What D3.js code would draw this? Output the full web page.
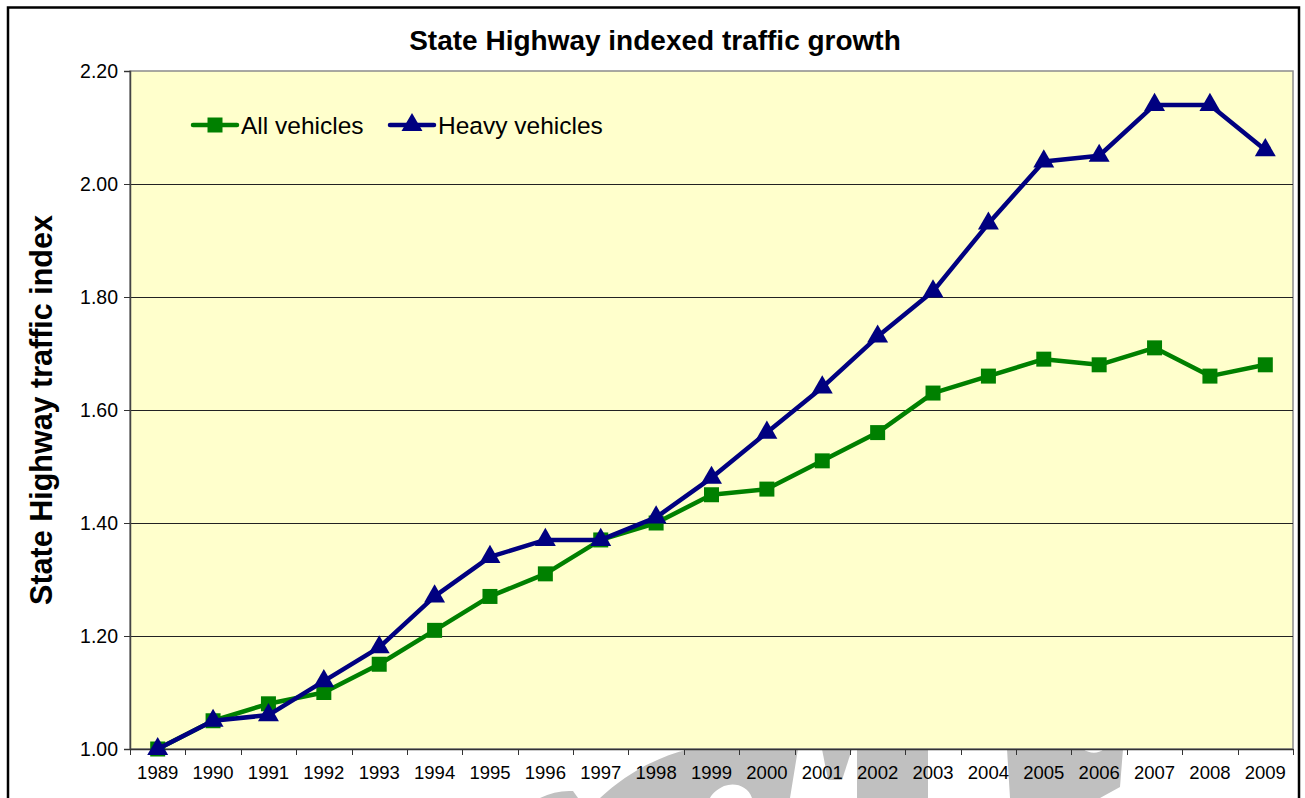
<!DOCTYPE html>
<html>
<head>
<meta charset="utf-8">
<script src="https://cdn.jsdelivr.net/npm/d3@7/dist/d3.min.js"></script>
<style>
body { margin: 0; background: #fff; }
text { font-family: Arial, "Liberation Sans", sans-serif; }
</style>
</head>
<body>
<script>
var years = ["1989", "1990", "1991", "1992", "1993", "1994", "1995", "1996", "1997", "1998", "1999",
    "2000", "2001", "2002", "2003", "2004", "2005", "2006", "2007", "2008", "2009"];
var allVehicles = [1.00, 1.05, 1.08, 1.10, 1.15, 1.21, 1.27, 1.31, 1.37, 1.40, 1.45,
    1.46, 1.51, 1.56, 1.63, 1.66, 1.69, 1.68, 1.71, 1.66, 1.68];
var heavyVehicles = [1.00, 1.05, 1.06, 1.12, 1.18, 1.27, 1.34, 1.37, 1.37, 1.41, 1.48,
    1.56, 1.64, 1.73, 1.81, 1.93, 2.04, 2.05, 2.14, 2.14, 2.06];
var yTicks = [1.00, 1.20, 1.40, 1.60, 1.80, 2.00, 2.20];
var seriesNames = ["All vehicles", "Heavy vehicles"];

var chart_width = 1305,
    chart_height = 798,
    plot = { left: 130, top: 71, right: 1293, bottom: 749 };

var green = "#008000",
    navy = "#000080";

var svg = d3.select("body").append("svg")
    .attr("width", chart_width)
    .attr("height", chart_height);

// grey watermark fragments peeking out under the plot
var watermark = [
    "M540,798 Q556,790 573,791 L578,798 Z",
    "M600,798 C625,775 655,757 690,749 L798,749 L790,798 L752,798 C748,786 735,782 724,786 C716,790 712,794 710,798 Z",
    "M822,749 L852,749 L842,780 L828,780 Z",
    "M857,749 L928,749 L928,798 L857,798 Z",
    "M1007,749 L1083,749 C1090,754 1098,754 1104,749 L1123,749 L1120,787 L1100,798 L1010,798 Z"
];
svg.append("g").selectAll("path")
    .data(watermark)
    .enter().append("path")
    .attr("d", function(d) { return d; })
    .style("fill", "#c0c0c0");

// chart frame
svg.append("rect")
    .attr("x", 8)
    .attr("y", 7.5)
    .attr("width", 1291)
    .attr("height", 830)
    .style("fill", "none")
    .style("stroke", "#000")
    .style("stroke-width", 2.5);

var x = d3.scaleBand().domain(years).range([plot.left, plot.right]),
    y = d3.scaleLinear().domain([1.0, 2.2]).range([plot.bottom, plot.top]);

svg.append("rect")
    .attr("x", plot.left)
    .attr("y", plot.top)
    .attr("width", plot.right - plot.left)
    .attr("height", plot.bottom - plot.top)
    .style("fill", "#ffffcc")
    .style("stroke", "#8c8c8c")
    .style("stroke-width", 1.5);

// gridlines
svg.append("g").selectAll("line")
    .data(yTicks.slice(1, -1))
    .enter().append("line")
    .attr("x1", plot.left)
    .attr("x2", plot.right)
    .attr("y1", function(d) { return Math.round(y(d)) + 0.5; })
    .attr("y2", function(d) { return Math.round(y(d)) + 0.5; })
    .style("stroke", "#222")
    .style("stroke-width", 1.2);

// y axis
var yAxis = svg.append("g")
    .attr("transform", "translate(" + plot.left + ",0)")
    .call(d3.axisLeft(y).tickValues(yTicks).tickFormat(d3.format(".2f")).tickSize(6).tickPadding(6));
yAxis.select(".domain").style("stroke", "#444").style("stroke-width", 1.5);
yAxis.selectAll(".tick line").style("stroke", "#333");
yAxis.selectAll(".tick text")
    .attr("font-size", "19.5px")
    .style("font-family", "Arial, 'Liberation Sans', sans-serif")
    .style("fill", "#000");

// x axis: labels centred, ticks between categories
var xAxis = svg.append("g")
    .attr("transform", "translate(0," + plot.bottom + ")")
    .call(d3.axisBottom(x).tickSize(0).tickPadding(17));
xAxis.select(".domain").style("stroke", "#333").style("stroke-width", 1.5);
xAxis.selectAll(".tick text")
    .attr("font-size", "18.5px")
    .style("font-family", "Arial, 'Liberation Sans', sans-serif")
    .style("fill", "#000");
xAxis.selectAll(".sep")
    .data(years.map(function(d) { return x(d); }).concat([x.range()[1]]))
    .enter().append("line")
    .attr("class", "sep")
    .attr("x1", function(d) { return Math.round(d) + 0.5; })
    .attr("x2", function(d) { return Math.round(d) + 0.5; })
    .attr("y1", 0)
    .attr("y2", 6)
    .style("stroke", "#333");

// series
var line = d3.line()
    .x(function(d, i) { return x(years[i]) + x.bandwidth() / 2; })
    .y(function(d) { return y(d); });

var square = d3.symbol().type(d3.symbolSquare).size(225),
    triangle = d3.symbol().type(d3.symbolTriangle).size(190);

function drawSeries(values, color, shape) {
    svg.append("path")
        .datum(values)
        .attr("d", line)
        .style("fill", "none")
        .style("stroke", color)
        .style("stroke-width", 4.5)
        .style("stroke-linejoin", "round");
    svg.append("g").selectAll("path")
        .data(values)
        .enter().append("path")
        .attr("transform", function(d, i) {
            return "translate(" + (x(years[i]) + x.bandwidth() / 2) + "," + y(d) + ")";
        })
        .attr("d", shape)
        .style("fill", color);
}
drawSeries(allVehicles, green, square);
drawSeries(heavyVehicles, navy, triangle);

// legend
var legend = svg.append("g").selectAll("g")
    .data(seriesNames)
    .enter().append("g")
    .attr("transform", function(d, i) { return "translate(" + (193 + i * 197) + ",125)"; });
legend.append("line")
    .attr("x1", 0)
    .attr("x2", 44)
    .style("stroke", function(d, i) { return i ? navy : green; })
    .style("stroke-width", 4.5)
    .style("stroke-linecap", "round");
legend.append("path")
    .attr("transform", "translate(22,0)")
    .attr("d", function(d, i) { return i ? triangle() : square(); })
    .style("fill", function(d, i) { return i ? navy : green; });
legend.append("text")
    .attr("x", 48)
    .attr("dy", "0.36em")
    .attr("font-size", "24.5px")
    .style("fill", "#000")
    .text(function(d) { return d; });

// titles
svg.append("text")
    .attr("x", 655)
    .attr("y", 50)
    .attr("font-size", "28px")
    .attr("font-weight", "bold")
    .style("text-anchor", "middle")
    .text("State Highway indexed traffic growth");

svg.append("text")
    .attr("transform", "translate(52,410) rotate(-90)")
    .attr("font-size", "30.5px")
    .attr("font-weight", "bold")
    .style("text-anchor", "middle")
    .text("State Highway traffic index");
</script>
</body>
</html>
